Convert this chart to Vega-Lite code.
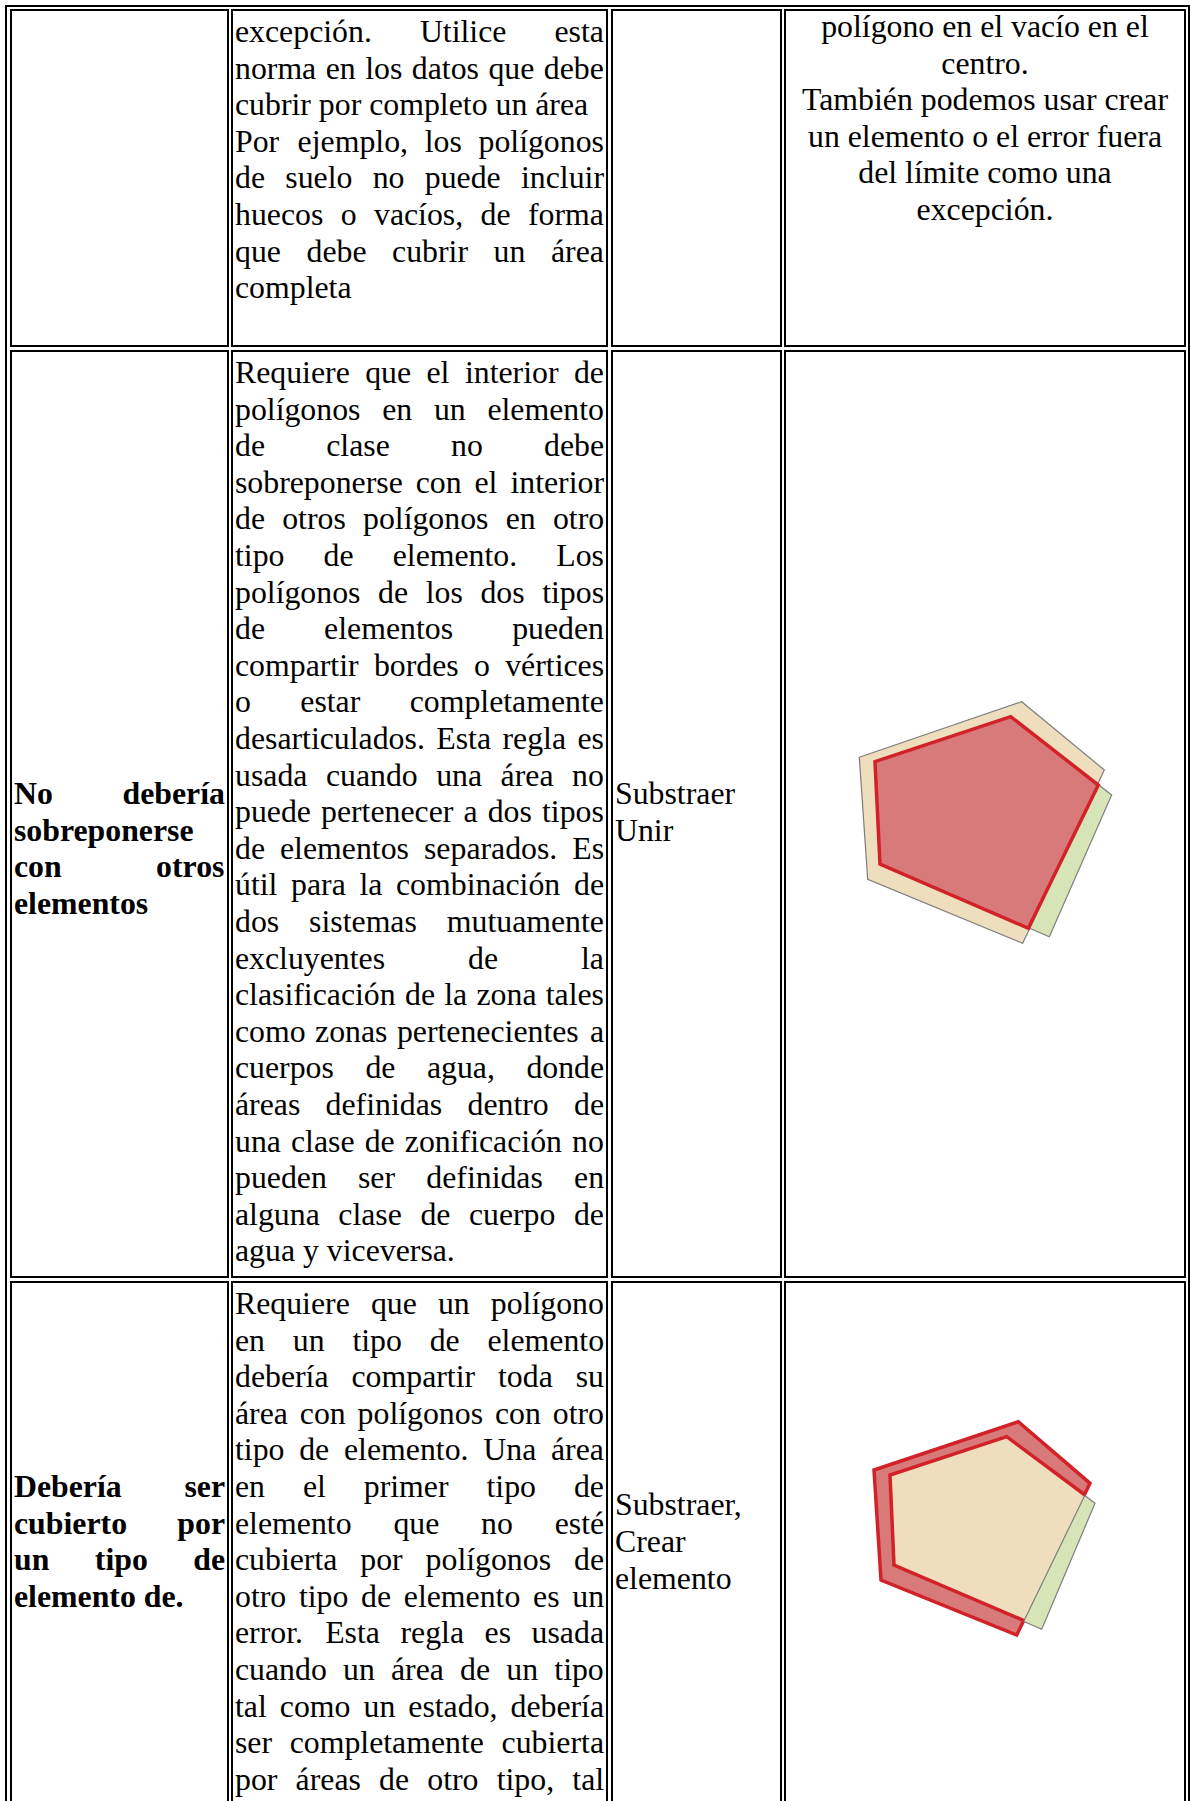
{
  "$schema": "https://vega.github.io/schema/vega-lite/v6.json",
  "width": 1190,
  "height": 1801,
  "autosize": {"type": "none"},
  "padding": 0,
  "background": "white",
  "config": {"view": {"stroke": null}},
  "datasets": {
    "cells": [
      {"x0": 6, "x1": 1189, "y0": 6, "y1": 1950},
      {"x0": 11, "x1": 228, "y0": 10, "y1": 346},
      {"x0": 232, "x1": 607, "y0": 10, "y1": 346},
      {"x0": 612, "x1": 781, "y0": 10, "y1": 346},
      {"x0": 785, "x1": 1185, "y0": 10, "y1": 346},
      {"x0": 11, "x1": 228, "y0": 351, "y1": 1277},
      {"x0": 232, "x1": 607, "y0": 351, "y1": 1277},
      {"x0": 612, "x1": 781, "y0": 351, "y1": 1277},
      {"x0": 785, "x1": 1185, "y0": 351, "y1": 1277},
      {"x0": 11, "x1": 228, "y0": 1282, "y1": 1900},
      {"x0": 232, "x1": 607, "y0": 1282, "y1": 1900},
      {"x0": 612, "x1": 781, "y0": 1282, "y1": 1900},
      {"x0": 785, "x1": 1185, "y0": 1282, "y1": 1900}
    ],
    "body": [
      {"x": 235, "y": 42, "t": "excepción."}, {"x": 419.9, "y": 42, "t": "Utilice"}, {"x": 554.5, "y": 42, "t": "esta"},
      {"x": 235, "y": 78.6, "t": "norma"}, {"x": 325.7, "y": 78.6, "t": "en"}, {"x": 365.2, "y": 78.6, "t": "los"}, {"x": 411.8, "y": 78.6, "t": "datos"}, {"x": 488.4, "y": 78.6, "t": "que"}, {"x": 543.8, "y": 78.6, "t": "debe"},
      {"x": 235, "y": 115.2, "t": "cubrir por completo un área"},
      {"x": 235, "y": 151.8, "t": "Por"}, {"x": 297.6, "y": 151.8, "t": "ejemplo,"}, {"x": 424.7, "y": 151.8, "t": "los"}, {"x": 478.5, "y": 151.8, "t": "polígonos"},
      {"x": 235, "y": 188.4, "t": "de"}, {"x": 285.3, "y": 188.4, "t": "suelo"}, {"x": 372.7, "y": 188.4, "t": "no"}, {"x": 424.8, "y": 188.4, "t": "puede"}, {"x": 521.0, "y": 188.4, "t": "incluir"},
      {"x": 235, "y": 225.0, "t": "huecos"}, {"x": 340.7, "y": 225.0, "t": "o"}, {"x": 374.0, "y": 225.0, "t": "vacíos,"}, {"x": 480.6, "y": 225.0, "t": "de"}, {"x": 528.0, "y": 225.0, "t": "forma"},
      {"x": 235, "y": 261.6, "t": "que"}, {"x": 306.5, "y": 261.6, "t": "debe"}, {"x": 392.1, "y": 261.6, "t": "cubrir"}, {"x": 493.6, "y": 261.6, "t": "un"}, {"x": 551.0, "y": 261.6, "t": "área"},
      {"x": 235, "y": 298.2, "t": "completa"},

      {"x": 235, "y": 383.0, "t": "Requiere"}, {"x": 365.2, "y": 383.0, "t": "que"}, {"x": 426.5, "y": 383.0, "t": "el"}, {"x": 464.9, "y": 383.0, "t": "interior"}, {"x": 573.9, "y": 383.0, "t": "de"},
      {"x": 235, "y": 419.6, "t": "polígonos"}, {"x": 382.2, "y": 419.6, "t": "en"}, {"x": 433.9, "y": 419.6, "t": "un"}, {"x": 487.4, "y": 419.6, "t": "elemento"},
      {"x": 235, "y": 456.2, "t": "de"}, {"x": 326.2, "y": 456.2, "t": "clase"}, {"x": 451.0, "y": 456.2, "t": "no"}, {"x": 544.0, "y": 456.2, "t": "debe"},
      {"x": 235, "y": 492.8, "t": "sobreponerse"}, {"x": 415.7, "y": 492.8, "t": "con"}, {"x": 474.5, "y": 492.8, "t": "el"}, {"x": 510.4, "y": 492.8, "t": "interior"},
      {"x": 235, "y": 529.4, "t": "de"}, {"x": 282.2, "y": 529.4, "t": "otros"}, {"x": 363.0, "y": 529.4, "t": "polígonos"}, {"x": 505.7, "y": 529.4, "t": "en"}, {"x": 552.9, "y": 529.4, "t": "otro"},
      {"x": 235, "y": 566.0, "t": "tipo"}, {"x": 323.6, "y": 566.0, "t": "de"}, {"x": 392.7, "y": 566.0, "t": "elemento."}, {"x": 556.3, "y": 566.0, "t": "Los"},
      {"x": 235, "y": 602.6, "t": "polígonos"}, {"x": 378.1, "y": 602.6, "t": "de"}, {"x": 425.7, "y": 602.6, "t": "los"}, {"x": 480.4, "y": 602.6, "t": "dos"}, {"x": 542.2, "y": 602.6, "t": "tipos"},
      {"x": 235, "y": 639.2, "t": "de"}, {"x": 324.1, "y": 639.2, "t": "elementos"}, {"x": 512.2, "y": 639.2, "t": "pueden"},
      {"x": 235, "y": 675.8, "t": "compartir"}, {"x": 373.9, "y": 675.8, "t": "bordes"}, {"x": 474.0, "y": 675.8, "t": "o"}, {"x": 505.2, "y": 675.8, "t": "vértices"},
      {"x": 235, "y": 712.4, "t": "o"}, {"x": 300.3, "y": 712.4, "t": "estar"}, {"x": 409.7, "y": 712.4, "t": "completamente"},
      {"x": 235, "y": 749.0, "t": "desarticulados."}, {"x": 436.3, "y": 749.0, "t": "Esta"}, {"x": 502.5, "y": 749.0, "t": "regla"}, {"x": 577.5, "y": 749.0, "t": "es"},
      {"x": 235, "y": 785.6, "t": "usada"}, {"x": 325.9, "y": 785.6, "t": "cuando"}, {"x": 436.2, "y": 785.6, "t": "una"}, {"x": 500.6, "y": 785.6, "t": "área"}, {"x": 572.0, "y": 785.6, "t": "no"},
      {"x": 235, "y": 822.2, "t": "puede"}, {"x": 321.0, "y": 822.2, "t": "pertenecer"}, {"x": 463.5, "y": 822.2, "t": "a"}, {"x": 487.7, "y": 822.2, "t": "dos"}, {"x": 542.0, "y": 822.2, "t": "tipos"},
      {"x": 235, "y": 858.8, "t": "de"}, {"x": 280.0, "y": 858.8, "t": "elementos"}, {"x": 424.0, "y": 858.8, "t": "separados."}, {"x": 572.3, "y": 858.8, "t": "Es"},
      {"x": 235, "y": 895.4, "t": "útil"}, {"x": 291.1, "y": 895.4, "t": "para"}, {"x": 359.4, "y": 895.4, "t": "la"}, {"x": 396.0, "y": 895.4, "t": "combinación"}, {"x": 574.0, "y": 895.4, "t": "de"},
      {"x": 235, "y": 932.0, "t": "dos"}, {"x": 309.1, "y": 932.0, "t": "sistemas"}, {"x": 446.8, "y": 932.0, "t": "mutuamente"},
      {"x": 235, "y": 968.6, "t": "excluyentes"}, {"x": 468.1, "y": 968.6, "t": "de"}, {"x": 581.0, "y": 968.6, "t": "la"},
      {"x": 235, "y": 1005.2, "t": "clasificación"}, {"x": 405.0, "y": 1005.2, "t": "de"}, {"x": 444.2, "y": 1005.2, "t": "la"}, {"x": 476.5, "y": 1005.2, "t": "zona"}, {"x": 545.7, "y": 1005.2, "t": "tales"},
      {"x": 235, "y": 1041.8, "t": "como"}, {"x": 315.1, "y": 1041.8, "t": "zonas"}, {"x": 396.9, "y": 1041.8, "t": "pertenecientes"}, {"x": 590.0, "y": 1041.8, "t": "a"},
      {"x": 235, "y": 1078.4, "t": "cuerpos"}, {"x": 365.4, "y": 1078.4, "t": "de"}, {"x": 426.9, "y": 1078.4, "t": "agua,"}, {"x": 526.4, "y": 1078.4, "t": "donde"},
      {"x": 235, "y": 1115.0, "t": "áreas"}, {"x": 325.6, "y": 1115.0, "t": "definidas"}, {"x": 467.5, "y": 1115.0, "t": "dentro"}, {"x": 574.0, "y": 1115.0, "t": "de"},
      {"x": 235, "y": 1151.6, "t": "una"}, {"x": 291.0, "y": 1151.6, "t": "clase"}, {"x": 364.7, "y": 1151.6, "t": "de"}, {"x": 404.8, "y": 1151.6, "t": "zonificación"}, {"x": 572.1, "y": 1151.6, "t": "no"},
      {"x": 235, "y": 1188.2, "t": "pueden"}, {"x": 358.0, "y": 1188.2, "t": "ser"}, {"x": 426.3, "y": 1188.2, "t": "definidas"}, {"x": 574.1, "y": 1188.2, "t": "en"},
      {"x": 235, "y": 1224.8, "t": "alguna"}, {"x": 338.3, "y": 1224.8, "t": "clase"}, {"x": 420.4, "y": 1224.8, "t": "de"}, {"x": 468.9, "y": 1224.8, "t": "cuerpo"}, {"x": 573.9, "y": 1224.8, "t": "de"},
      {"x": 235, "y": 1261.4, "t": "agua y viceversa."},

      {"x": 235, "y": 1314.0, "t": "Requiere"}, {"x": 370.9, "y": 1314.0, "t": "que"}, {"x": 437.9, "y": 1314.0, "t": "un"}, {"x": 490.8, "y": 1314.0, "t": "polígono"},
      {"x": 235, "y": 1350.6, "t": "en"}, {"x": 292.8, "y": 1350.6, "t": "un"}, {"x": 352.4, "y": 1350.6, "t": "tipo"}, {"x": 429.7, "y": 1350.6, "t": "de"}, {"x": 487.5, "y": 1350.6, "t": "elemento"},
      {"x": 235, "y": 1387.2, "t": "debería"}, {"x": 351.5, "y": 1387.2, "t": "compartir"}, {"x": 498.0, "y": 1387.2, "t": "toda"}, {"x": 575.7, "y": 1387.2, "t": "su"},
      {"x": 235, "y": 1423.8, "t": "área"}, {"x": 299.8, "y": 1423.8, "t": "con"}, {"x": 357.6, "y": 1423.8, "t": "polígonos"}, {"x": 495.0, "y": 1423.8, "t": "con"}, {"x": 552.8, "y": 1423.8, "t": "otro"},
      {"x": 235, "y": 1460.4, "t": "tipo"}, {"x": 299.2, "y": 1460.4, "t": "de"}, {"x": 344.0, "y": 1460.4, "t": "elemento."}, {"x": 483.3, "y": 1460.4, "t": "Una"}, {"x": 551.0, "y": 1460.4, "t": "área"},
      {"x": 235, "y": 1497.0, "t": "en"}, {"x": 302.9, "y": 1497.0, "t": "el"}, {"x": 363.8, "y": 1497.0, "t": "primer"}, {"x": 486.5, "y": 1497.0, "t": "tipo"}, {"x": 573.9, "y": 1497.0, "t": "de"},
      {"x": 235, "y": 1533.6, "t": "elemento"}, {"x": 393.4, "y": 1533.6, "t": "que"}, {"x": 481.1, "y": 1533.6, "t": "no"}, {"x": 554.7, "y": 1533.6, "t": "esté"},
      {"x": 235, "y": 1570.2, "t": "cubierta"}, {"x": 360.3, "y": 1570.2, "t": "por"}, {"x": 425.6, "y": 1570.2, "t": "polígonos"}, {"x": 574.0, "y": 1570.2, "t": "de"},
      {"x": 235, "y": 1606.8, "t": "otro"}, {"x": 298.9, "y": 1606.8, "t": "tipo"}, {"x": 361.1, "y": 1606.8, "t": "de"}, {"x": 403.8, "y": 1606.8, "t": "elemento"}, {"x": 533.1, "y": 1606.8, "t": "es"}, {"x": 572.3, "y": 1606.8, "t": "un"},
      {"x": 235, "y": 1643.4, "t": "error."}, {"x": 325.2, "y": 1643.4, "t": "Esta"}, {"x": 400.5, "y": 1643.4, "t": "regla"}, {"x": 484.6, "y": 1643.4, "t": "es"}, {"x": 531.6, "y": 1643.4, "t": "usada"},
      {"x": 235, "y": 1680.0, "t": "cuando"}, {"x": 343.0, "y": 1680.0, "t": "un"}, {"x": 391.0, "y": 1680.0, "t": "área"}, {"x": 460.1, "y": 1680.0, "t": "de"}, {"x": 506.3, "y": 1680.0, "t": "un"}, {"x": 554.3, "y": 1680.0, "t": "tipo"},
      {"x": 235, "y": 1716.6, "t": "tal"}, {"x": 279.8, "y": 1716.6, "t": "como"}, {"x": 363.5, "y": 1716.6, "t": "un"}, {"x": 408.3, "y": 1716.6, "t": "estado,"}, {"x": 510.5, "y": 1716.6, "t": "debería"},
      {"x": 235, "y": 1753.2, "t": "ser"}, {"x": 289.7, "y": 1753.2, "t": "completamente"}, {"x": 501.6, "y": 1753.2, "t": "cubierta"},
      {"x": 235, "y": 1789.8, "t": "por"}, {"x": 295.6, "y": 1789.8, "t": "áreas"}, {"x": 379.1, "y": 1789.8, "t": "de"}, {"x": 427.3, "y": 1789.8, "t": "otro"}, {"x": 496.7, "y": 1789.8, "t": "tipo,"}, {"x": 572.3, "y": 1789.8, "t": "tal"},

      {"x": 615, "y": 803.9, "t": "Substraer"}, {"x": 615, "y": 840.5, "t": "Unir"},
      {"x": 615, "y": 1515.3, "t": "Substraer,"}, {"x": 615, "y": 1551.9, "t": "Crear"}, {"x": 615, "y": 1588.5, "t": "elemento"}
    ],
    "labels": [
      {"x": 14, "y": 803.9, "t": "No"}, {"x": 122.5, "y": 803.9, "t": "debería"},
      {"x": 14, "y": 840.5, "t": "sobreponerse"},
      {"x": 14, "y": 877.1, "t": "con"}, {"x": 156.1, "y": 877.1, "t": "otros"},
      {"x": 14, "y": 913.7, "t": "elementos"},
      {"x": 14, "y": 1497.0, "t": "Debería"}, {"x": 184.4, "y": 1497.0, "t": "ser"},
      {"x": 14, "y": 1533.6, "t": "cubierto"}, {"x": 177.3, "y": 1533.6, "t": "por"},
      {"x": 14, "y": 1570.2, "t": "un"}, {"x": 94.8, "y": 1570.2, "t": "tipo"}, {"x": 193.2, "y": 1570.2, "t": "de"},
      {"x": 14, "y": 1606.8, "t": "elemento de."}
    ],
    "centered": [
      {"x": 985, "y": 37, "t": "polígono en el vacío en el"},
      {"x": 985, "y": 73.6, "t": "centro."},
      {"x": 985, "y": 110.2, "t": "También podemos usar crear"},
      {"x": 985, "y": 146.8, "t": "un elemento o el error fuera"},
      {"x": 985, "y": 183.4, "t": "del límite como una"},
      {"x": 985, "y": 220, "t": "excepción."}
    ],
    "shapes": [
      {"s": "G2", "i": 0, "x": 875, "y": 761.7}, {"s": "G2", "i": 1, "x": 1010.7, "y": 716.7}, {"s": "G2", "i": 2, "x": 1111.7, "y": 795}, {"s": "G2", "i": 3, "x": 1049.3, "y": 936.7}, {"s": "G2", "i": 4, "x": 880, "y": 864},
      {"s": "T2", "i": 0, "x": 859.3, "y": 757.3}, {"s": "T2", "i": 1, "x": 1021.7, "y": 701.7}, {"s": "T2", "i": 2, "x": 1104.3, "y": 770}, {"s": "T2", "i": 3, "x": 1022.7, "y": 943.3}, {"s": "T2", "i": 4, "x": 867.7, "y": 879.3},
      {"s": "R2", "i": 0, "x": 875, "y": 761.7}, {"s": "R2", "i": 1, "x": 1010.7, "y": 716.7}, {"s": "R2", "i": 2, "x": 1098.3, "y": 785}, {"s": "R2", "i": 3, "x": 1028.3, "y": 928.3}, {"s": "R2", "i": 4, "x": 880, "y": 864},
      {"s": "B3", "i": 0, "x": 874, "y": 1470}, {"s": "B3", "i": 1, "x": 1018.3, "y": 1421.7}, {"s": "B3", "i": 2, "x": 1090, "y": 1483.3}, {"s": "B3", "i": 3, "x": 1016.7, "y": 1635}, {"s": "B3", "i": 4, "x": 881, "y": 1580},
      {"s": "G3", "i": 0, "x": 890, "y": 1475}, {"s": "G3", "i": 1, "x": 1006.7, "y": 1436.7}, {"s": "G3", "i": 2, "x": 1095, "y": 1503.3}, {"s": "G3", "i": 3, "x": 1041.7, "y": 1629.3}, {"s": "G3", "i": 4, "x": 894, "y": 1565},
      {"s": "T3", "i": 0, "x": 890, "y": 1475}, {"s": "T3", "i": 1, "x": 1006.7, "y": 1436.7}, {"s": "T3", "i": 2, "x": 1085, "y": 1495}, {"s": "T3", "i": 3, "x": 1024, "y": 1620.7}, {"s": "T3", "i": 4, "x": 894, "y": 1565},
      {"s": "L3", "i": 0, "x": 1085, "y": 1495}, {"s": "L3", "i": 1, "x": 1006.7, "y": 1436.7}, {"s": "L3", "i": 2, "x": 890, "y": 1475}, {"s": "L3", "i": 3, "x": 894, "y": 1565}, {"s": "L3", "i": 4, "x": 1024, "y": 1620.7}
    ]
  },
  "layer": [
    {
      "data": {"name": "cells"},
      "mark": {"type": "rect", "filled": false, "stroke": "black", "strokeWidth": 2},
      "encoding": {
        "x": {"field": "x0", "type": "quantitative", "scale": {"domain": [0, 1190], "nice": false, "zero": false}, "axis": null},
        "x2": {"field": "x1"},
        "y": {"field": "y0", "type": "quantitative", "scale": {"domain": [0, 1801], "nice": false, "zero": false, "reverse": true}, "axis": null},
        "y2": {"field": "y1"}
      }
    },
    {
      "data": {"name": "shapes"},
      "transform": [{"filter": "datum.s === 'G2'"}],
      "mark": {"type": "line", "interpolate": "linear-closed", "fill": "#D6E4B8", "stroke": "#7d7d7d", "strokeWidth": 1.2},
      "encoding": {
        "x": {"field": "x", "type": "quantitative"},
        "y": {"field": "y", "type": "quantitative"},
        "order": {"field": "i", "type": "quantitative"}
      }
    },
    {
      "data": {"name": "shapes"},
      "transform": [{"filter": "datum.s === 'T2'"}],
      "mark": {"type": "line", "interpolate": "linear-closed", "fill": "#EFDEBD", "stroke": "#7d7d7d", "strokeWidth": 1.2},
      "encoding": {
        "x": {"field": "x", "type": "quantitative"},
        "y": {"field": "y", "type": "quantitative"},
        "order": {"field": "i", "type": "quantitative"}
      }
    },
    {
      "data": {"name": "shapes"},
      "transform": [{"filter": "datum.s === 'R2'"}],
      "mark": {"type": "line", "interpolate": "linear-closed", "fill": "#D87A7A", "stroke": "#D3212A", "strokeWidth": 3.5, "strokeJoin": "miter"},
      "encoding": {
        "x": {"field": "x", "type": "quantitative"},
        "y": {"field": "y", "type": "quantitative"},
        "order": {"field": "i", "type": "quantitative"}
      }
    },
    {
      "data": {"name": "shapes"},
      "transform": [{"filter": "datum.s === 'B3'"}],
      "mark": {"type": "line", "interpolate": "linear-closed", "fill": "#D87A7A", "stroke": "#D3212A", "strokeWidth": 3.5, "strokeJoin": "miter"},
      "encoding": {
        "x": {"field": "x", "type": "quantitative"},
        "y": {"field": "y", "type": "quantitative"},
        "order": {"field": "i", "type": "quantitative"}
      }
    },
    {
      "data": {"name": "shapes"},
      "transform": [{"filter": "datum.s === 'G3'"}],
      "mark": {"type": "line", "interpolate": "linear-closed", "fill": "#D6E4B8", "stroke": "#7d7d7d", "strokeWidth": 1.2},
      "encoding": {
        "x": {"field": "x", "type": "quantitative"},
        "y": {"field": "y", "type": "quantitative"},
        "order": {"field": "i", "type": "quantitative"}
      }
    },
    {
      "data": {"name": "shapes"},
      "transform": [{"filter": "datum.s === 'T3'"}],
      "mark": {"type": "line", "interpolate": "linear-closed", "fill": "#EFDEBD", "stroke": "#7d7d7d", "strokeWidth": 1.2},
      "encoding": {
        "x": {"field": "x", "type": "quantitative"},
        "y": {"field": "y", "type": "quantitative"},
        "order": {"field": "i", "type": "quantitative"}
      }
    },
    {
      "data": {"name": "shapes"},
      "transform": [{"filter": "datum.s === 'L3'"}],
      "mark": {"type": "line", "stroke": "#D3212A", "strokeWidth": 3.5, "strokeJoin": "miter"},
      "encoding": {
        "x": {"field": "x", "type": "quantitative"},
        "y": {"field": "y", "type": "quantitative"},
        "order": {"field": "i", "type": "quantitative"}
      }
    },
    {
      "data": {"name": "body"},
      "mark": {"type": "text", "align": "left", "baseline": "alphabetic", "font": "Liberation Serif", "fontSize": 31.8, "color": "black"},
      "encoding": {
        "x": {"field": "x", "type": "quantitative"},
        "y": {"field": "y", "type": "quantitative"},
        "text": {"field": "t"}
      }
    },
    {
      "data": {"name": "labels"},
      "mark": {"type": "text", "align": "left", "baseline": "alphabetic", "font": "Liberation Serif", "fontWeight": "bold", "fontSize": 31.8, "color": "black"},
      "encoding": {
        "x": {"field": "x", "type": "quantitative"},
        "y": {"field": "y", "type": "quantitative"},
        "text": {"field": "t"}
      }
    },
    {
      "data": {"name": "centered"},
      "mark": {"type": "text", "align": "center", "baseline": "alphabetic", "font": "Liberation Serif", "fontSize": 31.8, "color": "black"},
      "encoding": {
        "x": {"field": "x", "type": "quantitative"},
        "y": {"field": "y", "type": "quantitative"},
        "text": {"field": "t"}
      }
    }
  ]
}
